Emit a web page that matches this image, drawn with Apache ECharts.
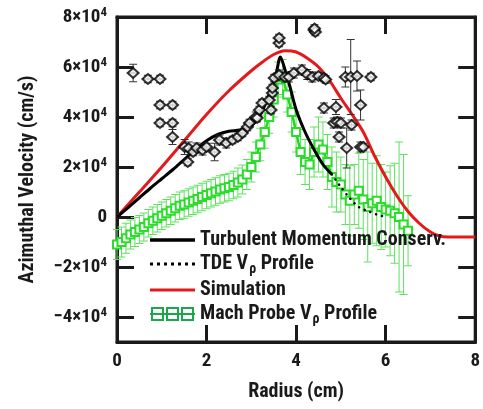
<!DOCTYPE html>
<html>
<head>
<meta charset="utf-8">
<script src="https://cdn.jsdelivr.net/npm/echarts@6/dist/echarts.min.js"></script>
<style>
html, body { margin: 0; padding: 0; background: #fff; }
#chart { width: 483px; height: 409px; }
</style>
</head>
<body>
<div id="chart"></div>
<script>
// simulation (red)
const simR = [0, 0.5, 1, 1.5, 2, 2.5, 3, 3.25, 3.5, 3.75, 4, 4.25, 4.5, 4.75, 5, 5.25, 5.5, 5.75, 6, 6.25, 6.5, 6.75, 7, 7.2, 7.4, 7.6, 8];
const simV = [0, 10000, 20000, 30500, 41000, 50500, 58500, 62000, 65000, 66500, 66000, 63500, 60000, 54500, 47500, 41000, 34000, 24500, 16000, 8500, 2200, -2500, -6000, -7600, -8000, -8000, -8000];

// turbulent momentum conservation (black solid)
const tmcR = [0, 0.25, 0.5, 0.75, 1, 1.25, 1.5, 1.75, 2, 2.25, 2.5, 2.75, 3, 3.2, 3.4, 3.55, 3.65, 3.75, 3.85, 4, 4.2, 4.4, 4.6, 4.8];
const tmcV = [0, 3800, 7700, 11600, 15300, 19000, 23000, 27000, 30500, 33000, 34300, 34800, 36500, 41000, 49000, 57000, 64000, 59000, 53000, 43000, 34000, 27000, 21000, 17000];

// TDE profile (black dotted)
const tdeR = [4.8, 5.0, 5.2, 5.4, 5.6, 5.8, 6.0];
const tdeV = [17000, 12000, 7500, 4000, 2400, 1000, 0];

// TDE points with error bars: [radius, velocity, error]
const tdePts = [
  [0.36, 57600, 3500], [0.69, 55200, 1500], [0.96, 55200, 1500], [0.96, 44800, 1500],
  [1.24, 44800, 1500], [0.96, 37600, 1500], [1.24, 37600, 1500], [1.24, 32000, 3000],
  [1.51, 28000, 3000], [1.58, 22000, 1500], [1.6, 27500, 2500], [1.7, 26000, 1500],
  [1.78, 27600, 2000], [1.91, 26800, 2000], [2.0, 28000, 1500], [2.18, 26000, 3500],
  [2.29, 30800, 2000], [2.44, 29600, 2000], [2.58, 30800, 1500], [2.7, 32000, 1500],
  [2.8, 33600, 1500], [2.91, 36000, 1500], [2.96, 37600, 1500], [3.1, 40000, 2000],
  [3.13, 39600, 1500], [3.18, 42800, 1500], [3.24, 45600, 1500], [3.4, 46800, 1500],
  [3.44, 42800, 1500], [3.47, 49600, 1500], [3.47, 51600, 1500], [3.51, 55600, 1500],
  [3.62, 56800, 2000], [3.62, 69600, 1500], [3.62, 71600, 1500], [3.75, 56000, 2000],
  [3.84, 56000, 2000], [3.95, 57600, 2000], [4.13, 58800, 2000], [4.25, 57000, 2000],
  [4.36, 56000, 2000], [4.5, 56400, 1500], [4.62, 55600, 1500], [4.66, 55000, 1500],
  [4.4, 74800, 1500], [4.43, 74000, 1500], [4.41, 75400, 1500],
  [5.1, 56000, 4000], [5.22, 56000, 15000], [5.36, 56400, 6000], [5.67, 56000, 1500],
  [4.62, 43600, 2000], [4.89, 44000, 3000], [4.84, 37600, 2000], [4.92, 38000, 2000],
  [5.0, 37600, 2000], [5.24, 36800, 2000], [4.96, 32000, 2000], [5.44, 44800, 6000],
  [5.13, 27600, 8000], [5.44, 28000, 2000], [5.5, 28000, 1500]
];

// Mach probe profile (green) with error bars
const machR = [0, 0.1, 0.2, 0.3, 0.4, 0.5, 0.6, 0.7, 0.8, 0.9, 1, 1.1, 1.2, 1.3, 1.4, 1.5, 1.6, 1.7, 1.8, 1.9,
  2, 2.1, 2.2, 2.3, 2.4, 2.5, 2.6, 2.7, 2.8, 2.9, 3, 3.1, 3.2, 3.3, 3.4, 3.5, 3.6, 3.7, 3.8, 3.9,
  4, 4.1, 4.2, 4.3, 4.4, 4.5, 4.6, 4.7, 4.8, 4.9, 5, 5.1, 5.2, 5.3, 5.4, 5.5, 5.6, 5.7, 5.8, 5.9,
  6, 6.1, 6.2, 6.3, 6.4, 6.5];
const machV = [-11000, -10000, -8500, -7000, -6000, -5000, -4000, -2500, -1500, -500, 500, 1500, 2500, 3500, 4500, 5000, 5800, 6500, 7200, 8000,
  8800, 9500, 10200, 11000, 11500, 12000, 12800, 13800, 15000, 17000, 20000, 24000, 29000, 34000, 40000, 47000, 55000, 56000, 49000, 42000,
  34000, 26000, 22000, 21000, 26000, 29000, 27000, 22000, 16000, 14000, 13000, 9000, 6500, 9000, 10500, 7000, 4000, 5500, 6500, 4000,
  3000, 2500, 1500, 0, -3000, -5500];
const machErr = [6000, 6000, 6000, 5800, 5800, 5600, 5600, 5500, 5500, 5500, 5500, 5500, 5500, 5500, 5500, 5500, 5500, 5500, 5500, 5500,
  5500, 5500, 5500, 5500, 5500, 5500, 5500, 5800, 5800, 6000, 6000, 6000, 6500, 6500, 6500, 7000, 7000, 7000, 7000, 8000,
  8000, 9000, 9000, 10000, 10000, 11000, 11000, 11000, 12000, 12000, 11000, 12000, 14000, 12000, 15000, 16000, 22000, 16000, 18000, 17000,
  15000, 18000, 20000, 30000, 28000, 14000];

const yTicks = [-40000, -20000, 0, 20000, 40000, 60000, 80000];

const FONT = "'Roboto Condensed', 'Open Sans Condensed', sans-serif";
const INK = '#1a1a1a';

function pairs(xs, ys) {
  return xs.map((x, i) => [x, ys[i]]);
}

function errorBars(color, capW, withBar) {
  return function (params, api) {
    const x = api.value(0), y = api.value(1), e = api.value(2);
    const top = api.coord([x, y + e]);
    const bot = api.coord([x, y - e]);
    const mid = api.coord([x, y]);
    const st = { stroke: color, lineWidth: 1 };
    const kids = [
      { type: 'line', shape: { x1: top[0], y1: top[1], x2: bot[0], y2: bot[1] }, style: st },
      { type: 'line', shape: { x1: top[0] - capW, y1: top[1], x2: top[0] + capW, y2: top[1] }, style: st },
      { type: 'line', shape: { x1: bot[0] - capW, y1: bot[1], x2: bot[0] + capW, y2: bot[1] }, style: st }
    ];
    if (withBar) {
      kids.push({ type: 'line', shape: { x1: mid[0] - 5, y1: mid[1], x2: mid[0] + 5, y2: mid[1] }, style: { stroke: '#000', lineWidth: 1.5 } });
    }
    return { type: 'group', children: kids };
  };
}

function frameLine() {
  return { show: true, onZero: false, lineStyle: { color: INK, width: 3 } };
}
function frameTick(values) {
  const t = { show: true, inside: true, length: 17, lineStyle: { color: INK, width: 3 } };
  if (values) t.customValues = values;
  return t;
}
const labelRich = {
  a: { fontFamily: FONT, fontSize: 19, fontWeight: 'bold', color: INK },
  sup: { fontFamily: FONT, fontSize: 13, fontWeight: 'bold', color: INK, padding: [0, 0, 9, 0] }
};
const legendRich = {
  t: { fontFamily: FONT, fontSize: 20, fontWeight: 'bold', color: INK },
  s: { fontFamily: FONT, fontSize: 14, fontWeight: 'bold', color: INK, padding: [10, 0, 0, 1] }
};

const chart = echarts.init(document.getElementById('chart'));
chart.setOption({
  animation: false,
  backgroundColor: '#fff',
  grid: { left: 117, right: 6, top: 17, bottom: 67, show: true, borderColor: INK, borderWidth: 3 },
  xAxis: [
    {
      type: 'value', min: 0, max: 8, interval: 2, position: 'bottom',
      axisLine: frameLine(), axisTick: frameTick(), splitLine: { show: false },
      axisLabel: { fontFamily: FONT, fontSize: 19, fontWeight: 'bold', color: INK, margin: 10 },
      name: 'Radius (cm)', nameLocation: 'middle', nameGap: 40,
      nameTextStyle: { fontFamily: FONT, fontSize: 20, fontWeight: 'bold', color: INK }
    },
    {
      type: 'value', min: 0, max: 8, interval: 2, position: 'top',
      axisLine: frameLine(), axisTick: frameTick(), splitLine: { show: false },
      axisLabel: { show: false }
    }
  ],
  yAxis: [
    {
      type: 'value', min: -50000, max: 80000, position: 'left',
      axisLine: frameLine(), axisTick: frameTick(yTicks), splitLine: { show: false },
      axisLabel: {
        customValues: yTicks, margin: 10,
        formatter: function (v) {
          if (v === 0) return '{a|0}';
          const m = v / 10000;
          return '{a|' + (m < 0 ? '\u2212' : '') + Math.abs(m) + '\u00d710}{sup|4}';
        },
        rich: labelRich
      },
      name: 'Azimuthal Velocity (cm/s)', nameLocation: 'middle', nameGap: 79,
      nameTextStyle: { fontFamily: FONT, fontSize: 20, fontWeight: 'bold', color: INK }
    },
    {
      type: 'value', min: -50000, max: 80000, position: 'right',
      axisLine: frameLine(), axisTick: frameTick(yTicks), splitLine: { show: false },
      axisLabel: { show: false }
    }
  ],
  legend: {
    orient: 'vertical', left: 145, top: 225,
    itemWidth: 45, itemHeight: 14, itemGap: 4,
    selectedMode: false,
    data: [
      {
        name: 'Turbulent Momentum Conserv.',
        icon: 'path://M0,0h45v3.5h-45z',
        itemStyle: { color: '#000', borderWidth: 0 }
      },
      {
        name: 'TDE V\u03c1 Profile',
        icon: 'path://M1,0h3v3h-3z M8,0h3v3h-3z M15,0h3v3h-3z M22,0h3v3h-3z M29,0h3v3h-3z M36,0h3v3h-3z M43,0h3v3h-3z',
        itemStyle: { color: '#000', borderWidth: 0 }
      },
      {
        name: 'Simulation',
        icon: 'path://M0,0h45v3h-45z',
        itemStyle: { color: '#e3191b', borderWidth: 0 }
      },
      {
        name: 'Mach Probe V\u03c1 Profile',
        icon: 'path://M0,6h45v2h-45z M1,0h13v14h-13z M3,2v10h9v-10z M16,0h13v14h-13z M18,2v10h9v-10z M31,0h13v14h-13z M33,2v10h9v-10z',
        itemStyle: { color: '#1aa84a', borderWidth: 0 }
      }
    ],
    formatter: function (name) {
      if (name.indexOf('\u03c1') >= 0) {
        const parts = name.split('\u03c1');
        return '{t|' + parts[0] + '}{s|\u03c1}{t|' + parts[1] + '}';
      }
      return '{t|' + name + '}';
    },
    textStyle: { fontFamily: FONT, fontSize: 20, fontWeight: 'bold', color: INK, rich: legendRich }
  },
  series: [
    {
      type: 'custom', name: 'machErr',
      renderItem: errorBars('#5ee25e', 4, false),
      data: machR.map((r, i) => [r, machV[i], machErr[i]]),
      encode: { x: 0, y: 1 }, z: 1
    },
    {
      type: 'line', name: 'Mach Probe V\u03c1 Profile',
      data: pairs(machR, machV),
      symbol: 'emptyRect', symbolSize: 8, showAllSymbol: true,
      itemStyle: { color: '#2bdc2b', borderWidth: 1.2 },
      lineStyle: { color: '#22d622', width: 2.5 }, z: 2
    },
    {
      type: 'line', name: 'Simulation',
      data: pairs(simR, simV), smooth: 0.3, symbol: 'none',
      lineStyle: { color: '#e3191b', width: 3 }, itemStyle: { color: '#e3191b' }, z: 3
    },
    {
      type: 'line', name: 'Turbulent Momentum Conserv.',
      data: pairs(tmcR, tmcV), smooth: 0.3, symbol: 'none',
      lineStyle: { color: '#000', width: 3 }, itemStyle: { color: '#000' }, z: 4
    },
    {
      type: 'line', name: 'TDE V\u03c1 Profile',
      data: pairs(tdeR, tdeV), smooth: 0.3, symbol: 'none',
      lineStyle: { color: '#000', width: 2.5, type: [0.1, 6], cap: 'round' }, itemStyle: { color: '#000' }, z: 4
    },
    {
      type: 'custom', name: 'tdeErr',
      renderItem: errorBars('#333', 4, true),
      data: tdePts, encode: { x: 0, y: 1 }, z: 5
    },
    {
      type: 'scatter', name: 'tdePts',
      data: tdePts.map(p => [p[0], p[1]]),
      symbol: 'emptyDiamond', symbolSize: [11, 10],
      itemStyle: { color: '#000', borderWidth: 2 }, z: 6
    }
  ]
});
</script>
</body>
</html>
